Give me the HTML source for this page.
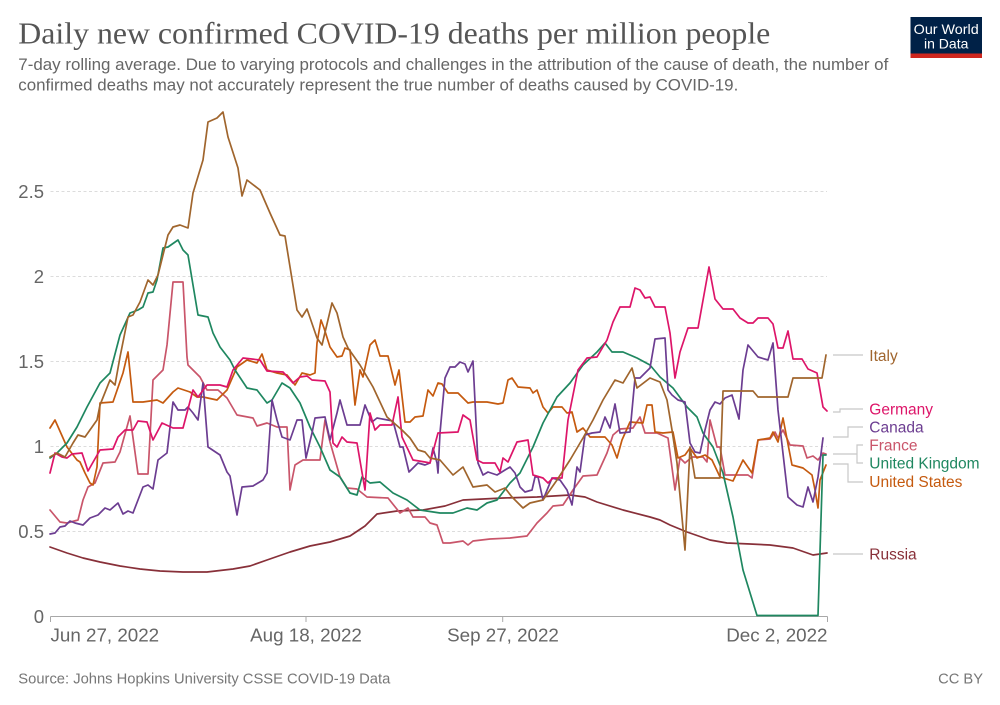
<!DOCTYPE html>
<html>
<head>
<meta charset="utf-8">
<style>
html,body{margin:0;padding:0;background:#fff;}
svg{display:block;}
text{font-family:"Liberation Sans",Arial,sans-serif;}
</style>
</head>
<body>
<svg width="1000" height="705" viewBox="0 0 1000 705" xmlns="http://www.w3.org/2000/svg">
<rect width="1000" height="705" fill="#fff"/>

<!-- Header -->
<text x="18.3" y="43.3" font-family="Liberation Serif, serif" font-size="31" fill="#555" textLength="752" lengthAdjust="spacingAndGlyphs" style="font-family:'Liberation Serif',serif">Daily new confirmed COVID-19 deaths per million people</text>
<text x="18.3" y="70" font-size="17" fill="#666" textLength="870" lengthAdjust="spacingAndGlyphs">7-day rolling average. Due to varying protocols and challenges in the attribution of the cause of death, the number of</text>
<text x="18.3" y="90.5" font-size="17" fill="#666" textLength="720" lengthAdjust="spacingAndGlyphs">confirmed deaths may not accurately represent the true number of deaths caused by COVID-19.</text>

<!-- Logo -->
<rect x="910.5" y="17" width="71.5" height="41" fill="#002147"/>
<rect x="910.5" y="53.5" width="71.5" height="4.5" fill="#ce261e"/>
<text x="946.2" y="34" font-size="14" fill="#fff" text-anchor="middle" textLength="65" lengthAdjust="spacingAndGlyphs">Our World</text>
<text x="946.2" y="48.3" font-size="14" fill="#fff" text-anchor="middle">in Data</text>

<!-- Grid -->
<g stroke="#dcdcdc" stroke-width="1" stroke-dasharray="3,2.5">
<line x1="50.5" y1="531.5" x2="827" y2="531.5"/>
<line x1="50.5" y1="446.5" x2="827" y2="446.5"/>
<line x1="50.5" y1="361.5" x2="827" y2="361.5"/>
<line x1="50.5" y1="276.5" x2="827" y2="276.5"/>
<line x1="50.5" y1="191.5" x2="827" y2="191.5"/>
</g>

<!-- Y labels -->
<g font-size="18.5" fill="#666" text-anchor="end">
<text x="44" y="623">0</text>
<text x="44" y="538">0.5</text>
<text x="44" y="453">1</text>
<text x="44" y="368">1.5</text>
<text x="44" y="283">2</text>
<text x="44" y="198">2.5</text>
</g>

<!-- X axis -->
<g stroke="#a8a8a8" stroke-width="1">
<line x1="50.5" y1="616.5" x2="827.5" y2="616.5"/>
<line x1="50.5" y1="616.5" x2="50.5" y2="622"/>
<line x1="306" y1="616.5" x2="306" y2="622"/>
<line x1="502.7" y1="616.5" x2="502.7" y2="622"/>
<line x1="827.5" y1="616.5" x2="827.5" y2="622"/>
</g>
<g font-size="18.8" fill="#666">
<text x="50.5" y="641.5">Jun 27, 2022</text>
<text x="306" y="641.5" text-anchor="middle">Aug 18, 2022</text>
<text x="503" y="641.5" text-anchor="middle">Sep 27, 2022</text>
<text x="827.5" y="641.5" text-anchor="end">Dec 2, 2022</text>
</g>

<!-- Series -->
<g fill="none" stroke-width="1.7" stroke-linejoin="round" stroke-linecap="round">
<!-- Russia -->
<polyline stroke="#883039" points="50,547 67,553 83,558 100,562 120,566 140,569 160,571 183,572 207,572 233,569 250,566 267,560 290,552 310,546 330,542 340,539 350,536 365,526 377,514 397,511 423,510 445,506 463,500 483,499 503,498 537,497 570,495 585,497 597,502 623,510 650,517 660,520 670,525 687,532 710,540 727,543 750,544 770,545 793,548 813,555 827,553"/>
<!-- France -->
<polyline stroke="#c9556a" points="50,510 60,522 67,523 78,520 83,500 88,487 95,483 103,463 115,462 120,452 130,416 138,474 148,474 153,380 163,370 167,345 173,282 183,282 187,357 188,365 200,377 207,390 218,390 227,398 237,415 253,418 257,426 267,423 277,427 287,427 290,490 295,465 303,460 320,460 325,420 330,442 340,477 347,488 357,489 367,497 388,498 400,513 408,508 413,517 425,517 430,523 437,525 443,543 450,543 463,541 468,545 473,541 490,539 510,538 527,536 537,523 547,513 553,506 563,505 573,490 583,476 597,475 607,453 613,435 620,429 633,428 640,417 645,433 657,433 668,438 675,490 680,458 685,463 692,457 703,457 707,462 710,420 717,447 720,447 725,475 748,475 752,478 758,440 770,439 775,432 778,438 783,430 790,445 803,446 807,458 813,456 818,460 823,453 826,454"/>
<!-- United States -->
<polyline stroke="#c55a0f" points="50,428 55,420 67,447 77,460 80,462 85,473 90,483 93,485 97,467 100,403 113,402 123,373 128,352 133,402 143,402 157,400 163,403 173,392 178,388 190,392 197,397 203,397 217,400 227,390 237,367 247,360 257,363 262,354 267,370 277,373 287,375 295,385 302,373 310,375 315,373 317,343 321,320 324,328 330,347 337,357 342,356 345,348 350,350 355,405 360,370 363,377 370,345 375,340 380,356 388,356 395,385 399,370 405,422 410,422 415,417 423,416 428,390 433,396 438,383 442,384 448,393 458,393 468,403 473,402 487,402 498,404 503,403 508,380 512,378 518,387 530,388 533,393 537,390 543,407 548,413 553,407 562,407 567,413 572,412 577,432 583,428 590,437 597,437 605,437 612,445 617,458 622,440 630,422 643,423 647,405 652,405 655,432 663,433 673,432 678,458 685,455 690,448 697,458 705,455 712,460 720,477 733,481 743,460 752,473 758,440 770,438 773,432 778,442 783,418 792,465 803,468 812,475 815,490 818,508 820,480 826,465"/>
<!-- United Kingdom -->
<polyline stroke="#1f8760" points="50,458 57,453 67,443 77,427 87,407 100,383 110,373 120,335 130,313 138,310 143,307 148,293 153,292 157,280 163,248 168,247 178,240 183,250 188,255 198,315 208,317 213,333 220,347 230,360 235,370 247,388 257,390 267,403 272,400 282,383 290,388 300,403 310,427 320,447 330,470 340,477 350,493 357,495 362,477 370,483 380,482 393,493 407,500 420,510 440,513 453,513 467,508 477,510 487,503 497,500 510,483 520,473 533,447 543,423 557,397 570,383 583,365 597,352 605,343 612,352 623,352 637,358 650,365 660,377 673,388 687,407 697,417 703,433 713,447 723,473 733,517 743,570 757,615.5 818,615.5 823,455 826,455"/>
<!-- Canada -->
<polyline stroke="#6c3d91" points="50,534 55,533 60,527 65,526 70,521 75,523 83,525 90,518 98,515 105,508 110,510 118,503 123,514 128,511 133,513 143,487 148,485 153,489 158,460 167,453 173,402 178,410 185,410 188,407 193,413 198,420 203,383 208,447 220,455 227,472 230,476 237,515 242,487 253,486 263,480 267,473 272,400 277,420 282,437 290,440 297,420 302,420 306,458 312,433 315,418 325,417 330,440 337,413 340,400 347,425 360,425 365,405 372,422 377,418 393,421 400,447 403,447 409,472 418,463 425,465 430,463 433,448 437,463 438,473 440,433 445,378 450,367 455,367 460,362 465,364 468,372 473,361 478,463 483,475 488,472 497,475 505,470 510,467 515,473 520,487 525,492 532,490 535,477 538,477 543,500 552,478 560,480 567,490 572,505 577,467 580,472 585,435 592,433 600,432 605,417 610,428 615,404 620,433 630,432 635,378 640,378 650,368 655,339 665,338 668,390 672,395 678,400 685,402 690,443 695,452 700,453 705,430 710,410 715,402 720,404 725,398 732,395 739,419 743,370 748,345 758,357 768,360 773,343 778,410 788,497 797,505 803,507 808,487 813,502 818,477 823,438"/>
<!-- Germany -->
<polyline stroke="#dd1569" points="50,473 55,453 62,457 67,458 72,454 82,453 88,471 100,450 113,449 118,437 125,430 133,430 138,421 147,422 153,440 162,423 173,428 183,428 193,390 198,397 207,385 220,385 227,387 233,370 243,358 260,360 267,371 283,372 293,383 300,377 307,376 312,380 325,381 330,392 333,443 337,447 342,437 347,442 357,443 365,490 370,413 375,430 380,425 392,425 398,397 402,437 413,460 425,462 430,463 438,433 458,432 463,415 470,420 477,460 483,463 495,463 500,472 503,458 508,462 517,442 528,440 533,475 543,478 548,483 553,478 562,478 568,420 578,370 587,358 597,357 607,340 613,322 620,307 630,307 635,288 640,290 645,298 650,297 655,307 665,307 670,333 675,378 680,352 688,328 698,328 709,267 715,299 723,309 733,309 740,318 748,323 753,323 758,318 768,318 773,324 778,348 783,348 788,331 793,359 802,359 808,369 817,373 823,407 827,411"/>
<!-- Italy -->
<polyline stroke="#a0652d" points="50,457 57,453 65,457 73,443 78,435 85,437 97,420 100,405 110,380 115,385 120,357 128,317 133,315 140,302 148,280 153,285 158,275 168,235 173,227 180,225 188,228 193,193 203,160 208,122 217,118 223,112 228,137 238,168 242,196 247,180 260,190 270,213 280,235 285,236 297,310 302,317 307,309 317,338 322,345 332,303 337,313 343,337 348,348 360,365 373,387 387,417 402,430 410,438 418,450 425,452 430,458 440,460 453,475 463,467 473,487 487,485 495,492 505,488 512,497 523,508 530,503 543,500 557,480 570,460 583,438 593,420 603,400 615,380 623,383 632,368 637,388 650,378 660,382 667,400 672,430 677,463 685,550 690,447 695,478 720,478 723,391 753,391 758,397 788,397 793,378 822,378 826,355"/>
</g>

<!-- Legend connectors -->
<g fill="none" stroke="#c8c8c8" stroke-width="1.2">
<polyline points="833,355 863,355"/>
<polyline points="833,412 840,412 840,409 863,409"/>
<polyline points="833,437 848,437 848,427 863,427"/>
<polyline points="833,454 857,454"/>
<polyline points="863,445 857,445 857,463 863,463"/>
<polyline points="833,464 848,464 848,482 863,482"/>
<polyline points="833,554 863,554"/>
</g>

<!-- Legend labels -->
<g font-size="15.5">
<text x="869.3" y="361" fill="#a0652d">Italy</text>
<text x="869.3" y="414.5" fill="#dd1569">Germany</text>
<text x="869.3" y="432.5" fill="#6c3d91">Canada</text>
<text x="869.3" y="450.5" fill="#c9556a">France</text>
<text x="869.3" y="468.5" fill="#1f8760">United Kingdom</text>
<text x="869.3" y="487" fill="#c55a0f">United States</text>
<text x="869.3" y="559.5" fill="#883039">Russia</text>
</g>

<!-- Footer -->
<text x="18.3" y="683.3" font-size="14.7" fill="#777" textLength="372" lengthAdjust="spacingAndGlyphs">Source: Johns Hopkins University CSSE COVID-19 Data</text>
<text x="983" y="683.3" font-size="14.7" fill="#777" text-anchor="end">CC BY</text>
</svg>
</body>
</html>
